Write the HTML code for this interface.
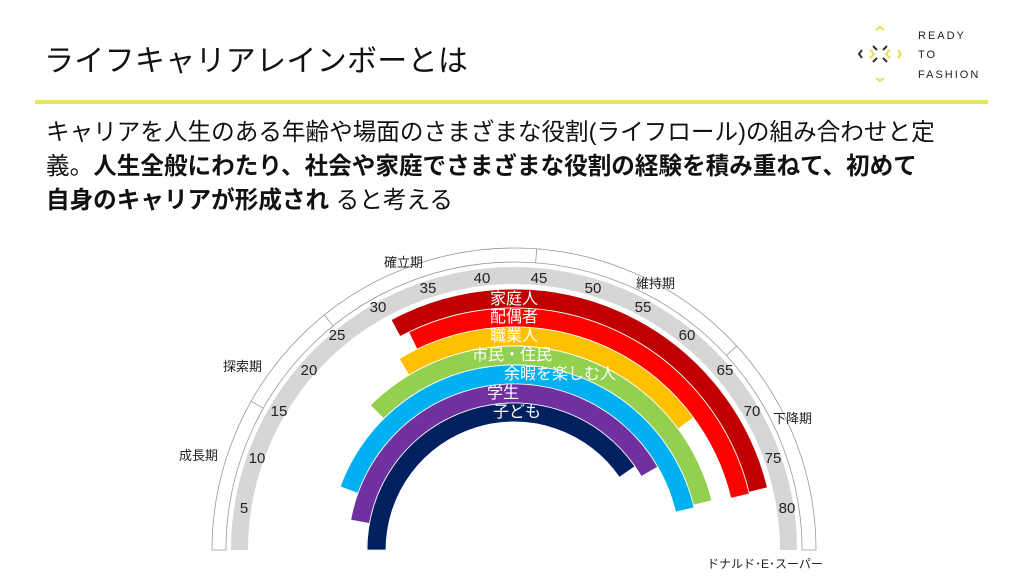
<!DOCTYPE html>
<html><head><meta charset="utf-8"><style>
body{margin:0;width:1024px;height:576px;background:#fff;overflow:hidden;position:relative;font-family:"Liberation Sans","Noto Sans CJK JP",sans-serif;color:#111}
.t{position:absolute;white-space:nowrap}
</style></head><body>
<div class="t" style="left:44px;top:36px;font-size:30px;letter-spacing:0.3px">ライフキャリアレインボーとは</div>
<div style="position:absolute;left:35px;top:100px;width:953px;height:4px;background:#e6e65a"></div>
<div class="t" style="left:46px;top:116px;font-size:23.6px;line-height:34px;">キャリアを人生のある年齢や場面のさまざまな役割(ライフロール)の組み合わせと定<br>義。<b>人生全般にわたり、社会や家庭でさまざまな役割の経験を積み重ねて、初めて</b><br><b>自身のキャリアが形成され</b> ると考える</div>
<svg style="position:absolute;left:0;top:0" width="1024" height="576">
<g stroke-width="2" fill="none">
<path d="M876 30 l4 -3 l4 3" stroke="#e6e04a"/><path d="M876 78 l4 3 l4 -3" stroke="#e6e04a"/>
<path d="M862 50 l-3 4 l3 4" stroke="#333"/><path d="M898 50 l3 4 l-3 4" stroke="#e6e04a"/>
<path d="M873 46 l4 4 M887 46 l-4 4 M873 62 l4 -4 M887 62 l-4 -4" stroke="#333"/>
<path d="M870 50 l4 4 l-4 4 M890 50 l-4 4 l4 4" stroke="#e6e04a"/>
</g>
<g font-size="11" fill="#222" letter-spacing="2" font-family="Liberation Sans, sans-serif">
<text x="918" y="39">READY</text><text x="918" y="58">TO</text><text x="918" y="78">FASHION</text></g>
<path d="M212,550 A302,302 0 0 1 816,550 L802,550 A288,288 0 0 0 226,550 Z" fill="#fff" stroke="#999" stroke-width="0.8"/>
<g stroke="#999" stroke-width="0.8"><line x1="263.3" y1="408.2" x2="251.1" y2="401.3"/><line x1="333.1" y1="325.9" x2="324.3" y2="315"/><line x1="535.6" y1="262.8" x2="536.7" y2="248.8"/><line x1="726.3" y1="355.4" x2="736.7" y2="346"/></g>
<path d="M231,550 A283,283 0 0 1 797,550 L780,550 A266,266 0 0 0 248,550 Z" fill="#d6d6d6"/>
<g stroke="#fff" stroke-width="0.8">
<path d="M391.1,319.8 A261,261 0 0 1 767.5,487.7 L749,492.3 A242,242 0 0 0 400,336.5 Z" fill="#c00000"/>
<path d="M408.7,332.1 A242,242 0 0 1 749.4,493.9 L730.9,498.3 A223,223 0 0 0 417,349.2 Z" fill="#ff0000"/>
<path d="M399.2,358.8 A223,223 0 0 1 693.5,417.7 L678.2,428.9 A204,204 0 0 0 408.9,375.1 Z" fill="#ffc000"/>
<path d="M370.3,405.2 A204,204 0 0 1 711.9,500.7 L693.5,505.2 A185,185 0 0 0 383.6,418.7 Z" fill="#92d050"/>
<path d="M340.2,486.7 A185,185 0 0 1 694.1,507.7 L675.6,512.1 A166,166 0 0 0 358,493.2 Z" fill="#00b0f0"/>
<path d="M350.7,520 A166,166 0 0 1 657.8,467 L641.3,476.5 A147,147 0 0 0 369.4,523.5 Z" fill="#7030a0"/>
<path d="M367,550 A147,147 0 0 1 635,466.5 L619.4,477.3 A128,128 0 0 0 386,550 Z" fill="#002060"/>
</g>
<g font-size="16" fill="#fff" text-anchor="middle" font-family="Liberation Sans, Noto Sans CJK JP, sans-serif">
<text x="514" y="304">家庭人</text><text x="514" y="322">配偶者</text><text x="514" y="341">職業人</text><text x="512" y="360">市民・住民</text><text x="560" y="379">余暇を楽しむ人</text><text x="503" y="398">学生</text><text x="517" y="417">子ども</text></g>
<g font-size="15" fill="#222" text-anchor="middle" font-family="Liberation Sans, sans-serif">
<text x="244" y="513">5</text><text x="257" y="463">10</text><text x="279" y="416">15</text><text x="309" y="375">20</text><text x="337" y="340">25</text><text x="378" y="312">30</text><text x="428" y="293">35</text><text x="482" y="283">40</text><text x="539" y="283">45</text><text x="593" y="293">50</text><text x="643" y="312">55</text><text x="687" y="340">60</text><text x="725" y="375">65</text><text x="752" y="416">70</text><text x="773" y="463">75</text><text x="787" y="513">80</text></g>
<g font-size="13" fill="#222" font-family="Liberation Sans, Noto Sans CJK JP, sans-serif">
<text x="179" y="460">成長期</text><text x="223" y="371">探索期</text><text x="384" y="267">確立期</text><text x="636" y="288">維持期</text><text x="773" y="423">下降期</text><text x="707" y="568" font-size="12">ドナルド･E･スーパー</text></g>
</svg>
</body></html>
